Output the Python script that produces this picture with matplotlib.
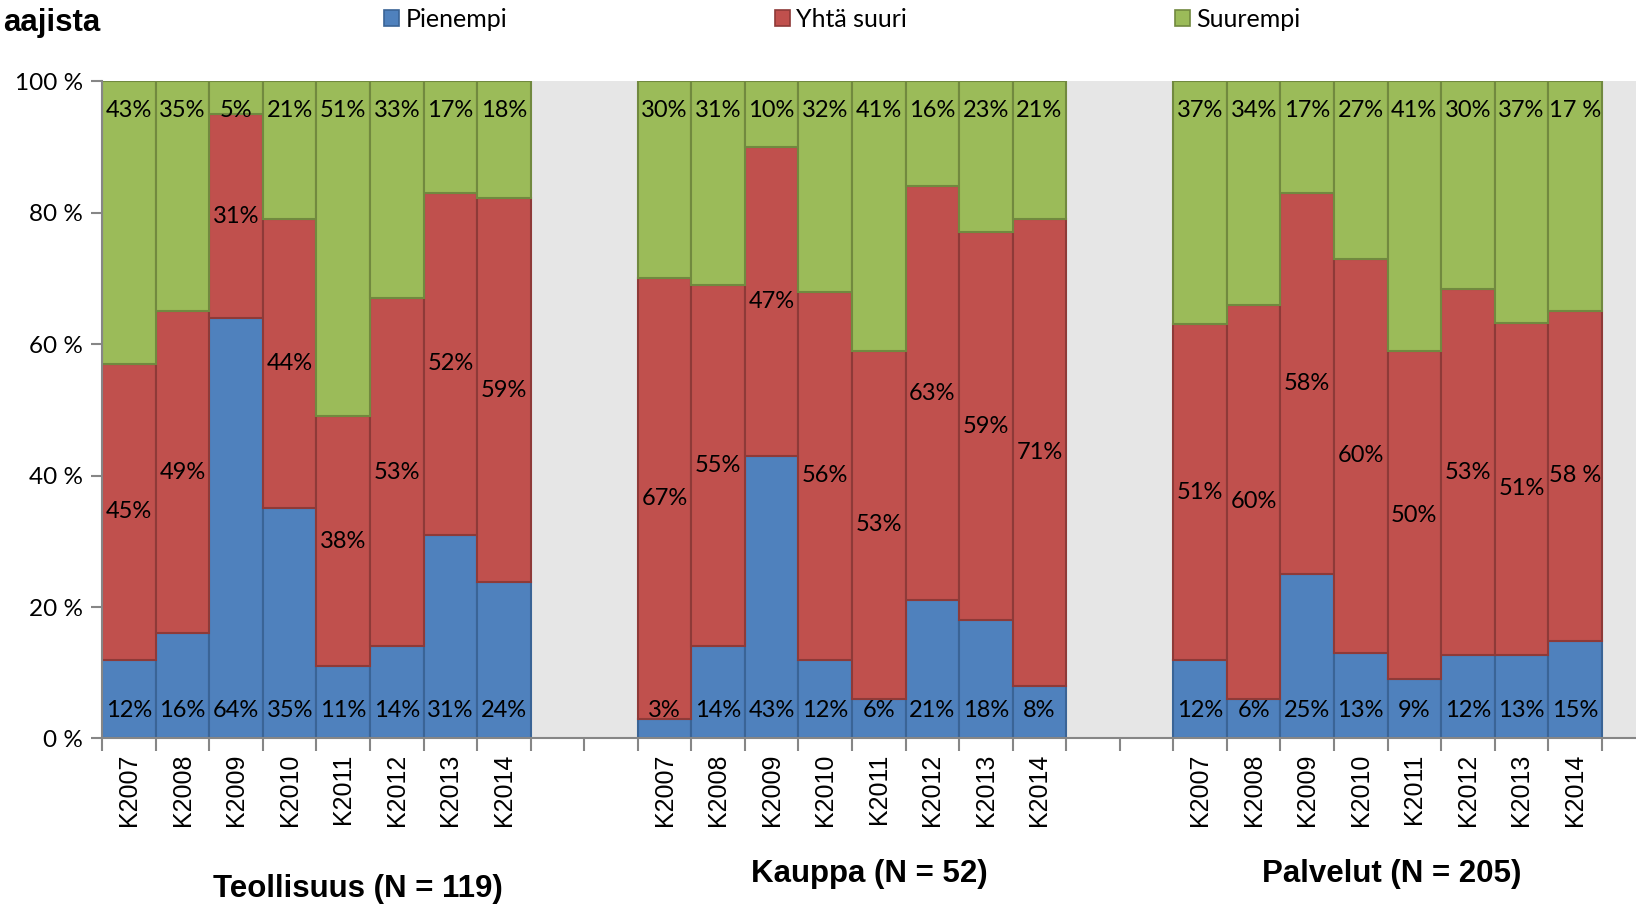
import matplotlib
matplotlib.use("Agg")
import matplotlib.pyplot as plt
from matplotlib.patches import Patch
from matplotlib.transforms import blended_transform_factory
import numpy as np

# data (percent of respondents)
years = ["K2007", "K2008", "K2009", "K2010", "K2011", "K2012", "K2013", "K2014"]
groups = ["Teollisuus (N = 119)", "Kauppa (N = 52)", "Palvelut (N = 205)"]
series = ["Pienempi", "Yhtä suuri", "Suurempi"]

# bar heights
teol_pien = [12, 16, 64, 35, 11, 14, 31, 23.8]
teol_yhta = [45, 49, 31, 44, 38, 53, 52, 58.4]
teol_suur = [43, 35, 5, 21, 51, 33, 17, 17.8]
kaup_pien = [3, 14, 43, 12, 6, 21, 18, 8]
kaup_yhta = [67, 55, 47, 56, 53, 63, 59, 71]
kaup_suur = [30, 31, 10, 32, 41, 16, 23, 21]
palv_pien = [12, 6, 25, 13, 9, 12.7, 12.7, 14.9]
palv_yhta = [51, 60, 58, 60, 50, 55.7, 50.6, 50.2]
palv_suur = [37, 34, 17, 27, 41, 31.6, 36.7, 34.9]

# data labels as printed in the chart
teol_lab = [["12%", "16%", "64%", "35%", "11%", "14%", "31%", "24%"],
            ["45%", "49%", "31%", "44%", "38%", "53%", "52%", "59%"],
            ["43%", "35%", "5%", "21%", "51%", "33%", "17%", "18%"]]
kaup_lab = [["3%", "14%", "43%", "12%", "6%", "21%", "18%", "8%"],
            ["67%", "55%", "47%", "56%", "53%", "63%", "59%", "71%"],
            ["30%", "31%", "10%", "32%", "41%", "16%", "23%", "21%"]]
palv_lab = [["12%", "6%", "25%", "13%", "9%", "12%", "13%", "15%"],
            ["51%", "60%", "58%", "60%", "50%", "53%", "51%", "58 %"],
            ["37%", "34%", "17%", "27%", "41%", "30%", "37%", "17 %"]]

colors = ["#4F81BD", "#C0504D", "#9BBB59"]
edges = ["#3A6496", "#8E3A38", "#71893F"]

pien = np.array(teol_pien + kaup_pien + palv_pien)
yhta = np.array(teol_yhta + kaup_yhta + palv_yhta)
suur = np.array(teol_suur + kaup_suur + palv_suur)
labels = [sum(l, []) for l in zip(teol_lab, kaup_lab, palv_lab)]

# 8 bars per group, two empty slots between groups
x = np.concatenate([np.arange(8) + 10 * g for g in range(3)])

fig = plt.figure(figsize=(16.36, 9.07), dpi=100)
ax = fig.add_axes([0.0625, 0.1858, 0.9375, 0.7245])
ax.set_facecolor("#E6E6E6")

bottoms = [np.zeros_like(pien), pien, pien + yhta]
for vals, bot, c, ec, name in zip([pien, yhta, suur], bottoms, colors, edges, series):
    ax.bar(x, vals, bottom=bot, width=1.0, color=c, edgecolor=ec, linewidth=1.5, label=name)

lab_font = dict(family="Lato", fontsize=17, color="black", ha="center", va="center")
for i, xi in enumerate(x):
    ax.text(xi, 4.2, labels[0][i], **lab_font)
    ax.text(xi, pien[i] + yhta[i] / 2, labels[1][i], **lab_font)
    ax.text(xi, 95.6, labels[2][i], **lab_font)

ax.set_xlim(-0.5, 28.14)
ax.set_ylim(0, 100)

ax.set_xticks(np.arange(-0.5, 28, 1.0))
ax.set_xticklabels([])
ax.set_xticks(x, minor=True)
ax.set_xticklabels(years * 3, minor=True, rotation=90, family="Liberation Sans", fontsize=18)
ax.tick_params(axis="x", which="major", length=9, width=1.5, color="#868686")
ax.tick_params(axis="x", which="minor", length=0, pad=11)

ax.set_yticks(range(0, 101, 20))
ax.set_yticklabels([f"{v} %" for v in range(0, 101, 20)], family="Lato", fontsize=17.5)
ax.tick_params(axis="y", length=8, width=1.5, color="#868686", pad=6)

for s in ["top", "right"]:
    ax.spines[s].set_visible(False)
for s in ["left", "bottom"]:
    ax.spines[s].set_color("#868686")
    ax.spines[s].set_linewidth(1.5)

# group titles under the axis
title_font = dict(family="Liberation Sans", fontsize=22.5, fontweight="bold", ha="center", va="center")
title_x = [4.28, 13.83, 23.57]
title_y = [0.020, 0.036, 0.036]
tr = blended_transform_factory(ax.transData, fig.transFigure)
for gx, gy, name in zip(title_x, title_y, groups):
    ax.text(gx, gy, name, transform=tr, **title_font)

fig.text(0.002, 0.975, "aajista", family="Liberation Sans", fontsize=22.5,
         fontweight="bold", ha="left", va="center")

handles = [Patch(facecolor=c, edgecolor=ec, linewidth=1.2) for c, ec in zip(colors, edges)]
fig.legend(handles, series, loc="center left", bbox_to_anchor=(0.2346, 0.979), ncol=3,
           frameon=False, prop={"family": "Lato", "size": 18}, handlelength=0.62,
           handleheight=0.62, handletextpad=0.25, columnspacing=10.7, borderaxespad=0, borderpad=0)

fig.savefig("out.png", dpi=100)
